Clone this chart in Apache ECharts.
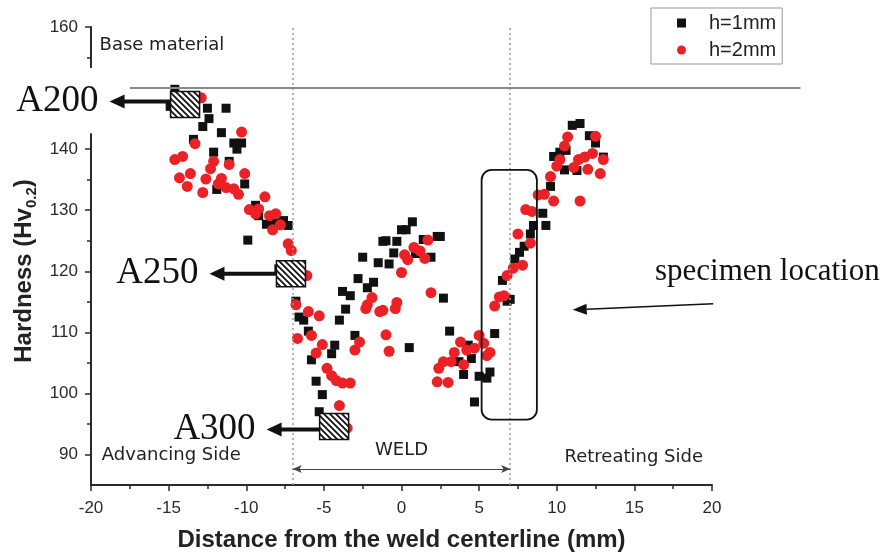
<!DOCTYPE html>
<html>
<head>
<meta charset="utf-8">
<script src="https://cdn.jsdelivr.net/npm/echarts@6/dist/echarts.min.js"></script>
<style>
  html, body { margin: 0; padding: 0; background: #fff; }
  #chart { width: 884px; height: 557px; }
</style>
</head>
<body>
<div id="chart"></div>
<script>
// series names (legend)
var seriesNames = ['h=1mm', 'h=2mm'];

// h=1mm  [distance (mm), hardness]
var h1mmPoints = [
  [-14.6,149.8],[-14.9,147.0],[-12.5,146.7],[-11.3,146.7],[-12.4,145.0],[-12.8,143.7],[-11.6,142.7],
  [-13.4,141.6],[-10.8,141.0],[-10.3,141.0],[-10.6,140.0],[-12.1,139.5],[-11.1,138.0],[-10.1,134.3],
  [-11.9,133.4],[-9.4,130.8],[-9.2,129.1],[-8.7,127.7],[-8.1,128.0],[-7.6,128.3],[-7.3,127.5],
  [-9.9,125.1],[-8.3,127.5],[-7.9,120.4],[-6.8,115.1],[-6.6,112.5],[-6.3,112.0],[-6.0,110.2],
  [-5.8,105.5],[-5.5,102.0],[-5.1,99.8],[-5.3,97.0],[-4.5,106.5],[-4.3,107.9],[-4.0,112.0],
  [-3.6,113.8],[-3.8,116.7],[-3.3,116.0],[-3.0,109.5],[-2.8,118.8],[-2.5,122.3],[-2.2,117.3],
  [-1.8,118.2],[-1.5,121.4],[-1.2,124.9],[-1.0,125.0],[-0.8,121.2],[-0.5,123.0],[-0.3,124.9],
  [0.0,126.8],[0.3,126.8],[0.7,128.1],[0.5,107.5],[0.9,122.9],[1.4,125.2],[1.9,122.3],
  [2.3,125.7],[2.5,125.7],[2.7,115.6],[3.1,110.2],[4.3,107.9],[4.5,105.7],[3.7,105.2],
  [4.0,103.1],[5.0,102.8],[5.5,102.5],[5.7,103.5],[4.7,98.6],[6.0,109.8],[6.5,118.5],
  [6.8,115.1],[7.0,115.4],[7.3,122.0],[7.6,123.1],[7.9,124.1],[8.3,126.1],[8.5,127.5],
  [9.3,127.5],[9.1,129.5],[9.6,133.9],[9.8,138.8],[10.2,139.5],[10.6,139.8],[10.5,136.6],
  [11.3,136.5],[11.0,143.9],[11.5,144.2],[12.1,142.2],[12.5,141.0],[13.0,138.7]
];

// h=2mm  [distance (mm), hardness]
var h2mmPoints = [
  [-12.9,148.4],[-10.3,142.8],[-13.3,140.9],[-14.6,138.3],[-14.1,138.8],[-12.1,138.0],[-11.1,137.5],
  [-12.3,136.8],[-10.1,136.0],[-13.6,136.0],[-14.3,135.3],[-12.6,135.1],[-11.6,135.2],[-13.8,133.9],
  [-11.8,134.3],[-11.3,133.7],[-10.8,133.5],[-10.5,132.6],[-12.8,132.9],[-8.8,132.2],[-9.8,130.1],
  [-9.2,130.2],[-9.4,129.4],[-8.5,129.1],[-8.1,129.4],[-7.8,127.6],[-8.3,126.8],[-7.3,124.5],
  [-7.1,123.4],[-6.1,119.3],[-6.8,114.5],[-6.0,113.4],[-5.3,112.7],[-6.7,109.0],[-5.8,109.5],
  [-5.1,108.0],[-5.5,106.6],[-4.8,104.1],[-4.5,102.9],[-4.2,102.1],[-3.8,101.7],[-3.3,101.7],
  [-4.0,98.0],[-3.5,94.3],[-1.9,115.7],[-2.2,114.5],[-2.3,113.9],[-1.4,113.4],[-1.2,113.6],
  [-0.4,113.9],[-0.3,114.9],[-2.7,108.4],[-3.0,107.1],[-1.0,109.6],[-0.8,106.9],[0.0,119.8],
  [0.2,122.7],[0.4,121.9],[0.8,123.9],[1.2,123.3],[1.5,122.1],[1.7,125.1],[1.9,116.5],
  [3.8,108.4],[3.4,106.7],[4.2,107.1],[4.7,107.4],[5.0,109.5],[5.3,108.2],[5.7,106.7],
  [5.5,106.2],[2.7,105.2],[3.2,105.2],[2.4,104.1],[4.0,104.7],[2.3,101.9],[3.0,101.8],
  [6.0,114.3],[6.3,115.8],[6.6,116.0],[6.8,119.3],[7.2,120.5],[7.8,121.0],[8.3,124.6],
  [7.5,126.1],[8.0,130.1],[8.4,129.8],[8.8,132.5],[9.2,132.6],[9.8,131.5],[9.6,135.5],
  [10.0,137.2],[10.2,138.3],[10.7,142.0],[11.1,137.0],[11.4,138.3],[11.8,138.7],[12.3,139.3],
  [13.0,138.3],[12.5,142.1],[10.5,140.5],[12.0,136.7],[12.8,136.0],[11.5,131.5]
];

// axis ticks
var yMajorTicks = [90, 100, 110, 120, 130, 140, 160];
var yMinorTicks = [95, 105, 115, 125, 135, 145, 155];
var weldEdges = [-7, 7];

var sansFont = '"Liberation Sans", Arial, sans-serif';
var plotFont = '"DejaVu Sans", sans-serif';
var serifFont = '"Liberation Serif", "Times New Roman", serif';
var axisColor = '#2a2a2a';

var chart = echarts.init(document.getElementById('chart'));

var option = {
  animation: false,
  backgroundColor: '#fff',
  grid: { left: 91, right: 172, top: 27, bottom: 70 },
  legend: {
    data: [
      { name: seriesNames[0], icon: 'rect' },
      { name: seriesNames[1], icon: 'circle' }
    ],
    orient: 'vertical',
    left: 651,
    top: 8,
    padding: [5, 6, 4, 26],
    itemGap: 7,
    itemWidth: 9,
    itemHeight: 9,
    borderColor: '#999',
    borderWidth: 1,
    selectedMode: false,
    textStyle: { fontFamily: sansFont, fontSize: 20, color: '#222', padding: [0, 0, 0, 18] }
  },
  xAxis: {
    type: 'value',
    min: -20,
    max: 20,
    interval: 5,
    name: 'Distance from the weld centerline (mm)',
    nameLocation: 'middle',
    nameGap: 43,
    nameTextStyle: { fontFamily: sansFont, fontSize: 24, fontWeight: 'bold', color: '#222' },
    axisLine: { onZero: false, lineStyle: { color: axisColor, width: 2 } },
    axisTick: { length: 6, lineStyle: { color: axisColor, width: 1.5 } },
    minorTick: { show: true, splitNumber: 2, length: 4, lineStyle: { color: axisColor, width: 1.5 } },
    splitLine: { show: false },
    axisLabel: { margin: 15, fontFamily: sansFont, fontSize: 17, color: axisColor }
  },
  yAxis: [
    {
      type: 'value',
      min: 85,
      max: 160,
      axisLine: { show: true, onZero: false, lineStyle: { color: axisColor, width: 2 } },
      axisTick: { show: true, customValues: yMajorTicks, length: 6, lineStyle: { color: axisColor, width: 1.5 } },
      axisLabel: { customValues: yMajorTicks, margin: 13, fontFamily: sansFont, fontSize: 17, color: axisColor },
      splitLine: { show: false }
    },
    {
      type: 'value',
      min: 85,
      max: 160,
      position: 'left',
      axisLine: { show: false, onZero: false },
      axisTick: { show: true, customValues: yMinorTicks, length: 4, lineStyle: { color: axisColor, width: 1.5 } },
      axisLabel: { show: false },
      splitLine: { show: false }
    }
  ],
  series: [
    {
      name: seriesNames[0],
      type: 'scatter',
      symbol: 'rect',
      symbolSize: 9,
      itemStyle: { color: '#111', opacity: 1 },
      data: h1mmPoints,
      markLine: {
        silent: true,
        symbol: 'none',
        label: { show: false },
        lineStyle: { color: '#999', type: [2, 3], width: 1.5 },
        data: weldEdges.map(function (v) { return { xAxis: v }; })
      }
    },
    {
      name: seriesNames[1],
      type: 'scatter',
      symbol: 'circle',
      symbolSize: 11,
      itemStyle: { color: '#ec2126', opacity: 1 },
      data: h2mmPoints,
      markLine: {
        silent: true,
        symbol: ['arrow', 'arrow'],
        symbolSize: [6, 9],
        label: { show: false },
        lineStyle: { color: '#444', type: 'solid', width: 1 },
        data: [[{ coord: [weldEdges[0], 87.6] }, { coord: [weldEdges[1], 87.6] }]]
      }
    }
  ]
};

chart.setOption(option);

// ---- annotations (drawn with graphic elements) ----
function px(x, y) { return chart.convertToPixel({ seriesIndex: 0 }, [x, y]); }

// hatch pattern for the specimen squares
var hatch = document.createElement('canvas');
hatch.width = 6; hatch.height = 6;
var hg = hatch.getContext('2d');
hg.fillStyle = '#fff'; hg.fillRect(0, 0, 6, 6);
hg.strokeStyle = '#111'; hg.lineWidth = 1.8;
hg.beginPath();
hg.moveTo(-1, -1); hg.lineTo(7, 7);
hg.moveTo(-1, 5); hg.lineTo(1, 7);
hg.moveTo(5, -1); hg.lineTo(7, 1);
hg.stroke();

var specimens = [
  { label: 'A200', at: [-13.94, 147.3], reach: 61, dy: -3 },
  { label: 'A250', at: [-7.12, 119.6], reach: 67, dy: 0 },
  { label: 'A300', at: [-4.34, 94.6], reach: 53, dy: 3 }
];

var graphics = [];

// white gap in the y axis behind the A200 label
var gapTop = px(-20, 153.3), gapBot = px(-20, 142.6);
graphics.push({
  type: 'rect', z: 50,
  shape: { x: gapTop[0] - 6, y: gapTop[1], width: 12, height: gapBot[1] - gapTop[1] },
  style: { fill: '#fff' }
});

// base material level
var b0 = px(-17.5, 150), b1 = px(25.7, 150);
graphics.push({
  type: 'line', z: 50,
  shape: { x1: b0[0], y1: b0[1], x2: b1[0], y2: b1[1] },
  style: { stroke: '#8a8a8a', lineWidth: 2 }
});

specimens.forEach(function (s) {
  var c = px(s.at[0], s.at[1]);
  var w = 29, h = 26;
  var left = c[0] - w / 2;
  var cy = c[1] + s.dy;
  var tip = left - s.reach;
  var hx = tip + 15;
  graphics.push({
    type: 'rect', z: 60,
    shape: { x: left, y: c[1] - h / 2, width: w, height: h },
    style: { fill: { image: hatch, repeat: 'repeat' }, stroke: '#111', lineWidth: 1.5 }
  });
  graphics.push({
    type: 'polygon', z: 60,
    shape: { points: [[tip, cy], [hx, cy - 7], [hx, cy - 2], [left, cy - 2], [left, cy + 2], [hx, cy + 2], [hx, cy + 7]] },
    style: { fill: '#111' }
  });
  graphics.push({
    type: 'text', z: 61,
    x: tip - 11, y: cy,
    style: { text: s.label, fill: '#111', font: '37px ' + serifFont, align: 'right', verticalAlign: 'middle' }
  });
});

// specimen location box
var r0 = px(5.16, 136.6), r1 = px(8.72, 95.7);
graphics.push({
  type: 'rect', z: 55,
  shape: { x: r0[0], y: r0[1], width: r1[0] - r0[0], height: r1[1] - r0[1], r: 10 },
  style: { fill: 'none', stroke: '#111', lineWidth: 1.8 }
});

// specimen location arrow
var a0 = px(11.03, 113.7), a1 = px(20.08, 114.7);
var ang = Math.atan2(a1[1] - a0[1], a1[0] - a0[0]);
var ux = Math.cos(ang), uy = Math.sin(ang);
var hb = [a0[0] + ux * 14, a0[1] + uy * 14];
graphics.push({
  type: 'line', z: 55,
  shape: { x1: hb[0], y1: hb[1], x2: a1[0], y2: a1[1] },
  style: { stroke: '#111', lineWidth: 1.5 }
});
graphics.push({
  type: 'polygon', z: 55,
  shape: { points: [[a0[0], a0[1]], [hb[0] - uy * 5.5, hb[1] + ux * 5.5], [hb[0] + uy * 5.5, hb[1] - ux * 5.5]] },
  style: { fill: '#111' }
});
graphics.push({
  type: 'text', z: 55, x: 655, y: 272,
  style: { text: 'specimen location', fill: '#111', font: '31px ' + serifFont, align: 'left', verticalAlign: 'middle' }
});

// in-plot labels
function plotText(txt, x, y, align) {
  var p = px(x, y);
  graphics.push({
    type: 'text', z: 55, x: p[0], y: p[1],
    style: { text: txt, fill: '#222', font: '18px ' + plotFont, align: align, verticalAlign: 'middle' }
  });
}
plotText('Base material', -19.45, 157.0, 'left');
plotText('Advancing Side', -19.3, 89.8, 'left');
plotText('Retreating Side', 10.5, 89.5, 'left');
plotText('WELD', 0, 90.6, 'center');

// y axis title with subscript
graphics.push({
  type: 'text', z: 55, x: 24, y: 271, rotation: Math.PI / 2,
  style: {
    text: '{b|Hardness (Hv}{s|0.2}{b|)}',
    align: 'center', verticalAlign: 'middle',
    rich: {
      b: { fontFamily: sansFont, fontSize: 24, fontWeight: 'bold', fill: '#222', color: '#222', lineHeight: 30 },
      s: { fontFamily: sansFont, fontSize: 15, fontWeight: 'bold', fill: '#222', color: '#222', lineHeight: 15, verticalAlign: 'bottom' }
    }
  }
});

chart.setOption({ graphic: graphics });
</script>
</body>
</html>
